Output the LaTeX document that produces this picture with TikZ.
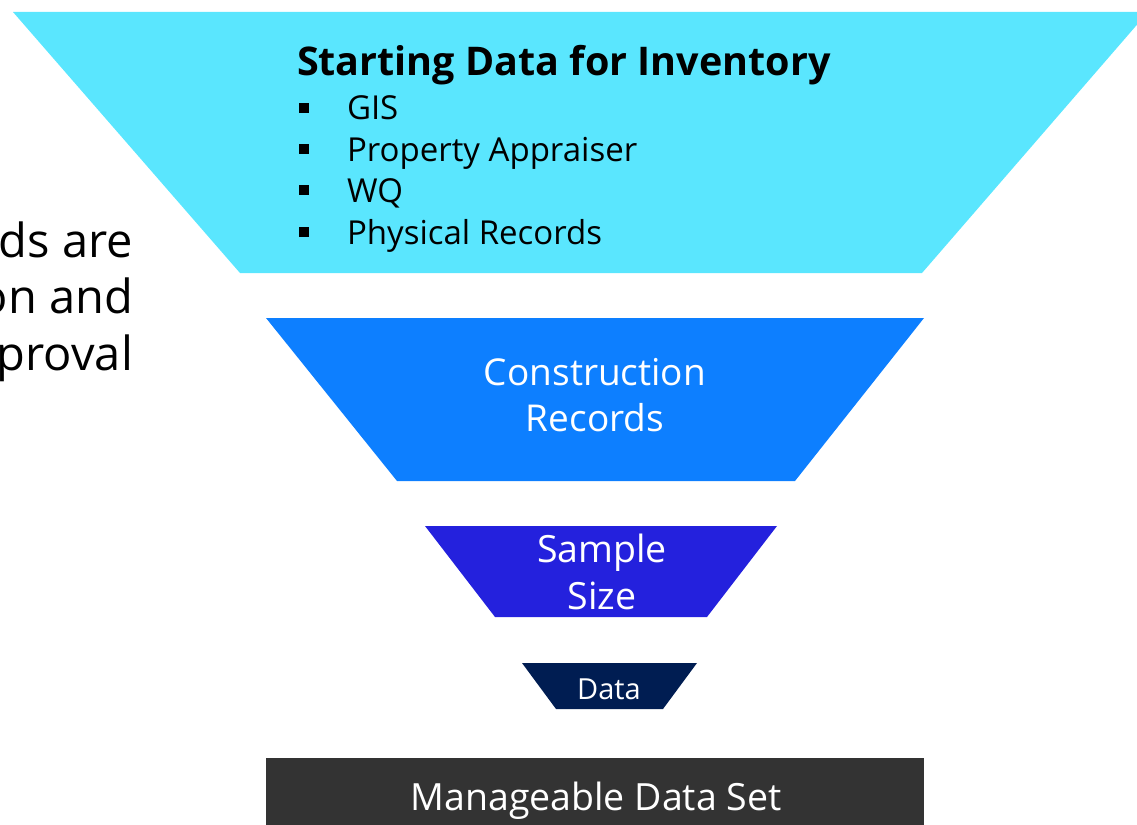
\documentclass[tikz,border=0pt]{standalone}
\usepackage{fontspec}
\setmainfont{Open Sans}
\definecolor{cCyan}{HTML}{5AE6FE}
\definecolor{cBlue}{HTML}{0D7FFF}
\definecolor{cIndigo}{HTML}{2421DD}
\definecolor{cNavy}{HTML}{001D52}
\definecolor{cDark}{HTML}{333333}
\tikzset{
  lbl/.style={inner sep=0pt, outer sep=0pt},
  whitelbl/.style={lbl, text=white, align=center},
  bul/.style={fill=black}
}
\newcommand{\fs}[1]{\fontsize{#1}{#1}\selectfont}
\begin{document}
\begin{tikzpicture}[x=1pt,y=-1pt]
\useasboundingbox (0,0) rectangle (1137,824);
% funnel layers
\fill[cCyan] (13,12) -- (1148,12) -- (922,273) -- (240,273) -- cycle;
\fill[cBlue] (266,318) -- (924,318) -- (795,481) -- (397,481) -- cycle;
\fill[cIndigo] (425,526) -- (777,526) -- (707,617) -- (495,617) -- cycle;
\fill[cNavy] (522,663) -- (697,663) -- (663,709) -- (556,709) -- cycle;
\fill[cDark] (266,758) rectangle (924,830);
% top layer text
\node[lbl, anchor=base west] (title) at (297,76) {\fs{39.5}\bfseries Starting Data for Inventory};
\node[lbl, anchor=base west] (b1) at (347,120) {\fs{33}GIS};
\node[lbl, anchor=base west] (b2) at (347,161) {\fs{33}Property Appraiser};
\node[lbl, anchor=base west] (b3) at (347,202) {\fs{33}WQ};
\node[lbl, anchor=base west] (b4) at (347,244) {\fs{33}Physical Records};
\fill[bul] (299,103) rectangle (309,113);
\fill[bul] (299,144) rectangle (309,154);
\fill[bul] (299,185) rectangle (309,195);
\fill[bul] (299,227) rectangle (309,237);
% other layers
\node[whitelbl, anchor=base] (c1) at (595,385) {\fs{37}Construction};
\node[whitelbl, anchor=base] (c2) at (595,431) {\fs{37}Records};
\node[whitelbl, anchor=base] (s1) at (602,562) {\fs{37.5}Sample};
\node[whitelbl, anchor=base] (s2) at (602,609) {\fs{37.5}Size};
\node[whitelbl, anchor=base] (d) at (609,699) {\fs{29}Data};
\node[whitelbl, anchor=base] (m) at (596,810) {\fs{37.5}Manageable Data Set};
% left text (cut off by the page edge)
\node[lbl, anchor=base east] (l1) at (133,257) {\fs{47}ds are};
\node[lbl, anchor=base east] (l2) at (133,313) {\fs{47}on and};
\node[lbl, anchor=base east] (l3) at (133,370) {\fs{47}proval};
\end{tikzpicture}
\end{document}
